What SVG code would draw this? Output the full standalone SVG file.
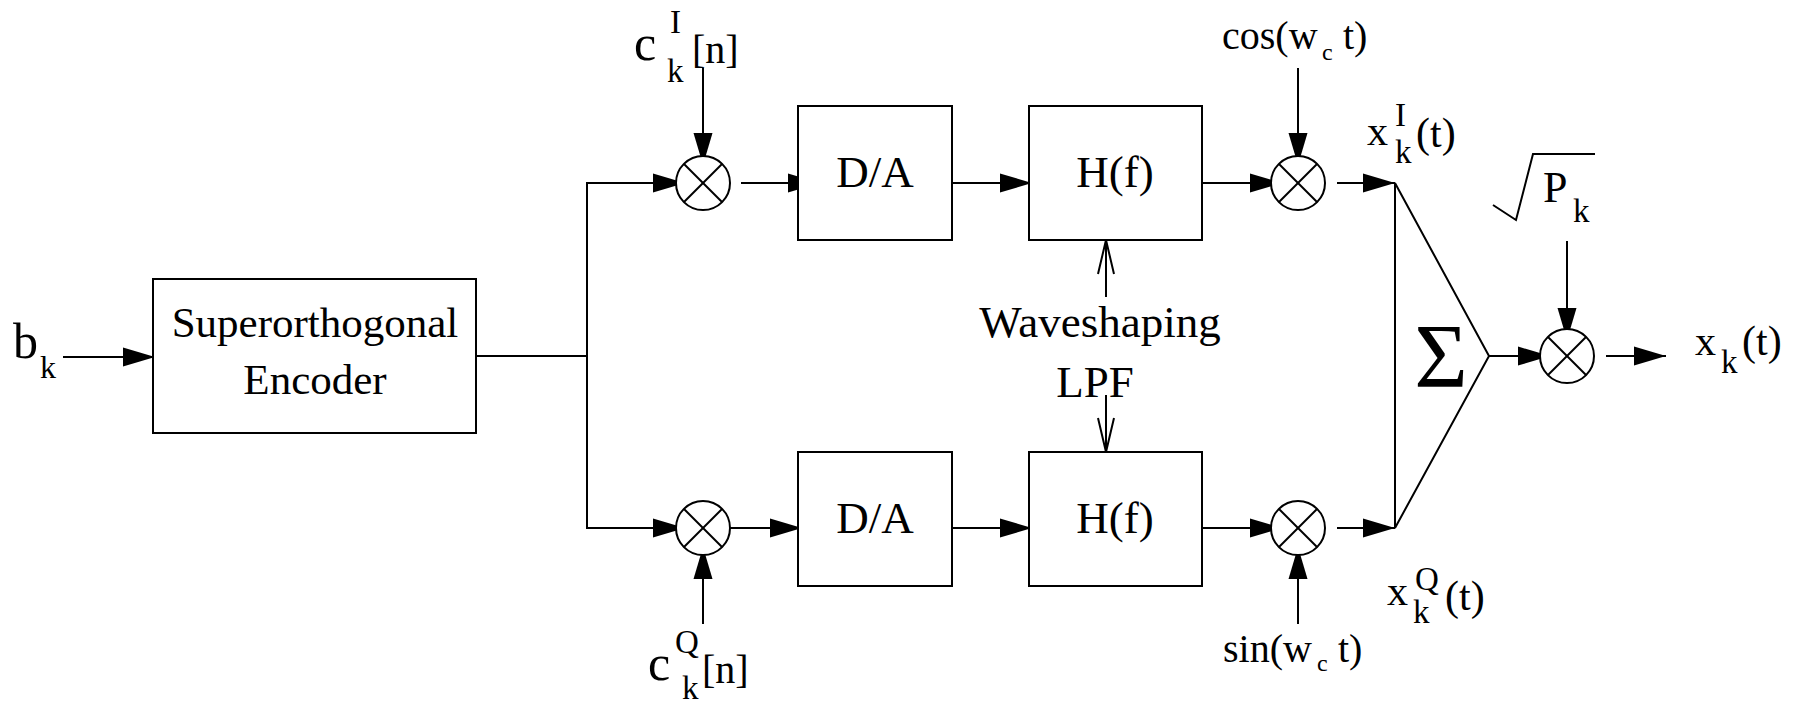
<svg xmlns="http://www.w3.org/2000/svg" width="1796" height="704" viewBox="0 0 1796 704" font-family="'Liberation Serif', 'Times New Roman', 'DejaVu Serif', serif">
<style>
  .ln { stroke:#000; stroke-width:2; fill:none; }
  .box { stroke:#000; stroke-width:2; fill:#fff; }
  text { font-family:'Liberation Serif', 'Times New Roman', serif; fill:#000; }
  .m { font-size:45px; text-anchor:middle; }
  .big { font-size:42px; }
  .sub { font-size:33px; }
  .arr { marker-end:url(#ah); }
  .oarr { marker-end:url(#oh); }
</style>
<defs>
  <marker id="ah" markerUnits="userSpaceOnUse" markerWidth="34" markerHeight="20" refX="32" refY="9.5" orient="auto" overflow="visible">
    <path d="M0,0 L32,9.5 L0,19 Z" fill="#000"/>
  </marker>
  <marker id="oh" markerUnits="userSpaceOnUse" markerWidth="36" markerHeight="20" refX="34" refY="8" orient="auto" overflow="visible">
    <path d="M0,0 L34,8 L0,16" fill="none" stroke="#000" stroke-width="2"/>
  </marker>
  <g id="mult">
    <circle cx="0" cy="0" r="27" fill="#fff" stroke="#000" stroke-width="2"/>
    <line x1="-19" y1="-19" x2="19" y2="19" stroke="#000" stroke-width="2"/>
    <line x1="-19" y1="19" x2="19" y2="-19" stroke="#000" stroke-width="2"/>
  </g>
</defs>
<rect width="1796" height="704" fill="#fff"/>

<g id="connectors">
  <line class="ln arr" x1="63" y1="357" x2="155" y2="357"/>
  <polyline class="ln" points="476,356 587,356"/>
  <polyline class="ln arr" points="587,356 587,183 685,183"/>
  <polyline class="ln arr" points="587,356 587,528 685,528"/>
  <line class="ln arr" x1="703" y1="68" x2="703" y2="165"/>
  <line class="ln arr" x1="703" y1="624" x2="703" y2="547"/>
  <line class="ln arr" x1="741" y1="183" x2="820" y2="183"/>
  <line class="ln arr" x1="722" y1="528" x2="802" y2="528"/>
  <line class="ln arr" x1="952" y1="183" x2="1032" y2="183"/>
  <line class="ln arr" x1="952" y1="528" x2="1032" y2="528"/>
  <line class="ln arr" x1="1202" y1="183" x2="1282" y2="183"/>
  <line class="ln arr" x1="1202" y1="528" x2="1282" y2="528"/>
  <line class="ln arr" x1="1298" y1="68" x2="1298" y2="165"/>
  <line class="ln arr" x1="1298" y1="624" x2="1298" y2="547"/>
  <line class="ln arr" x1="1337" y1="183" x2="1395" y2="183"/>
  <line class="ln arr" x1="1337" y1="528" x2="1395" y2="528"/>
  <line class="ln arr" x1="1489" y1="356" x2="1550" y2="356"/>
  <line class="ln arr" x1="1567" y1="241" x2="1567" y2="340"/>
  <line class="ln arr" x1="1606" y1="356" x2="1666" y2="356"/>
  <line class="ln oarr" x1="1106" y1="297" x2="1106" y2="240"/>
  <line class="ln oarr" x1="1106" y1="395" x2="1106" y2="452"/>
</g>

<g id="input">
  <text x="13" y="358" font-size="50">b</text>
  <text x="40" y="378" font-size="32">k</text>
</g>

<g id="encoder">
  <rect class="box" x="153" y="279" width="323" height="154"/>
  <text class="m" x="315" y="337" style="font-size:43px">Superorthogonal</text>
  <text class="m" x="315" y="394" style="font-size:43px">Encoder</text>
</g>

<g id="mult-i"><use href="#mult" x="703" y="183"/></g>
<g id="mult-q"><use href="#mult" x="703" y="528"/></g>
<g id="mult-cos"><use href="#mult" x="1298" y="183"/></g>
<g id="mult-sin"><use href="#mult" x="1298" y="528"/></g>
<g id="mult-p"><use href="#mult" x="1567" y="356"/></g>

<g id="ck-i">
  <text x="634" y="60" font-size="50">c</text>
  <text class="sub" x="670" y="33">I</text>
  <text class="sub" x="667" y="82">k</text>
  <text x="692" y="63" font-size="40">[n]</text>
</g>
<g id="ck-q">
  <text x="648" y="680" font-size="50">c</text>
  <text class="sub" x="675" y="653">Q</text>
  <text class="sub" x="682" y="699">k</text>
  <text x="702" y="683" font-size="40">[n]</text>
</g>

<g id="da-i">
  <rect class="box" x="798" y="106" width="154" height="134"/>
  <text class="m" x="875" y="187">D/A</text>
</g>
<g id="da-q">
  <rect class="box" x="798" y="452" width="154" height="134"/>
  <text class="m" x="875" y="533">D/A</text>
</g>

<g id="hf-i">
  <rect class="box" x="1029" y="106" width="173" height="134"/>
  <text class="m" x="1115" y="187">H(f)</text>
</g>
<g id="hf-q">
  <rect class="box" x="1029" y="452" width="173" height="134"/>
  <text class="m" x="1115" y="533">H(f)</text>
</g>

<g id="lpf-label">
  <text class="m" x="1100" y="337">Waveshaping</text>
  <text class="m" x="1095" y="397">LPF</text>
</g>

<g id="cos">
  <text x="1222" y="49" font-size="40">cos(w</text>
  <text x="1322" y="60" font-size="24">c</text>
  <text x="1343" y="49" font-size="40">t)</text>
</g>
<g id="sin">
  <text x="1223" y="662" font-size="40">sin(w</text>
  <text x="1317" y="671" font-size="24">c</text>
  <text x="1338" y="662" font-size="40">t)</text>
</g>

<g id="xi">
  <text class="big" x="1367" y="145">x</text>
  <text class="sub" x="1395" y="126">I</text>
  <text class="sub" x="1395" y="163">k</text>
  <text class="big" x="1416" y="147">(t)</text>
</g>
<g id="xq">
  <text class="big" x="1387" y="605">x</text>
  <text class="sub" x="1415" y="590">Q</text>
  <text class="sub" x="1413" y="623">k</text>
  <text class="big" x="1445" y="610">(t)</text>
</g>

<g id="sum">
  <polygon class="ln" points="1395,183 1489,356 1395,528"/>
  <text x="1441" y="387" font-size="92" text-anchor="middle">Σ</text>
</g>

<g id="sqrtp">
  <polyline class="ln" points="1493,205 1516,220 1533,154 1595,154"/>
  <text x="1543" y="202" font-size="44">P</text>
  <text class="sub" x="1573" y="222">k</text>
</g>

<g id="output">
  <text class="big" x="1695" y="355">x</text>
  <text class="sub" x="1721" y="373">k</text>
  <text class="big" x="1742" y="355">(t)</text>
</g>
</svg>
